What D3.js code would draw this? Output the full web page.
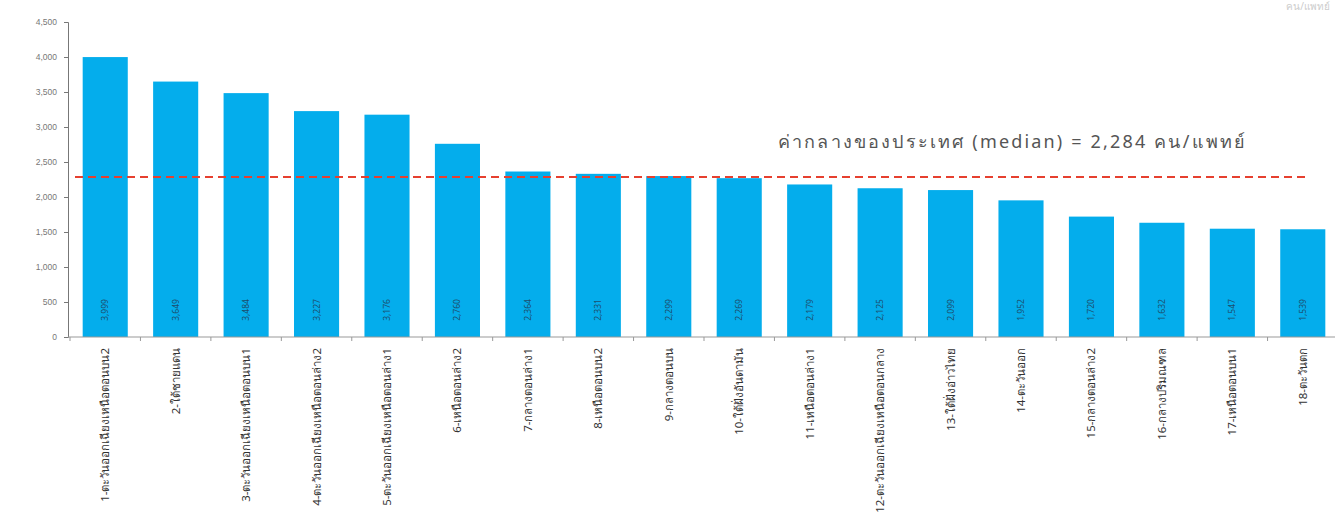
<!DOCTYPE html>
<html>
<head>
<meta charset="utf-8">
<script src="https://cdn.jsdelivr.net/npm/d3@7"></script>
<style>
  html, body { margin: 0; padding: 0; background: #fff; }
  svg { display: block; font-family: Tahoma, "Noto Sans", "DejaVu Sans", sans-serif; }
</style>
</head>
<body>
<svg id="chart" width="1335" height="522"></svg>
<script>
const categories = [
  "1-ตะวันออกเฉียงเหนือตอนบน2",
  "2-ใต้ชายแดน",
  "3-ตะวันออกเฉียงเหนือตอนบน1",
  "4-ตะวันออกเฉียงเหนือตอนล่าง2",
  "5-ตะวันออกเฉียงเหนือตอนล่าง1",
  "6-เหนือตอนล่าง2",
  "7-กลางตอนล่าง1",
  "8-เหนือตอนบน2",
  "9-กลางตอนบน",
  "10-ใต้ฝั่งอันดามัน",
  "11-เหนือตอนล่าง1",
  "12-ตะวันออกเฉียงเหนือตอนกลาง",
  "13-ใต้ฝั่งอ่าวไทย",
  "14-ตะวันออก",
  "15-กลางตอนล่าง2",
  "16-กลางปริมณฑล",
  "17-เหนือตอนบน1",
  "18-ตะวันตก"
];
const values = [3999, 3649, 3484, 3227, 3176, 2760, 2364, 2331, 2299, 2269, 2179, 2125, 2099, 1952, 1720, 1632, 1547, 1539];
const medianValue = 2284;
const medianLabel = "ค่ากลางของประเทศ (median) =  2,284 คน/แพทย์";
const yTicks = [0, 500, 1000, 1500, 2000, 2500, 3000, 3500, 4000, 4500];

const svg = d3.select("#chart");
const y = d3.scaleLinear().domain([0, 4500]).range([337, 22]);
const x = d3.scaleBand().domain(categories).range([70, 1338]).paddingInner(0.36).paddingOuter(0.18);
const fmt = d3.format(",");

// Y axis
const yAxis = svg.append("g").attr("transform", "translate(68,0)")
  .call(d3.axisLeft(y).tickValues(yTicks).tickFormat(fmt).tickSize(4).tickPadding(7));
yAxis.select(".domain").attr("stroke", "#777");
yAxis.selectAll(".tick line").attr("stroke", "#777");
yAxis.selectAll(".tick text").attr("fill", "#777").style("font-size", "8.5px");

// Bars
svg.append("g").selectAll("rect").data(values).join("rect")
  .attr("x", (d, i) => x(categories[i]))
  .attr("y", d => y(d))
  .attr("width", x.bandwidth())
  .attr("height", d => y(0) - y(d))
  .attr("fill", "#04adec");

// X axis line + boundary ticks
const step = x.step();
svg.append("line").attr("x1", 68).attr("x2", 1335).attr("y1", y(0)).attr("y2", y(0))
  .attr("stroke", "#999").attr("stroke-width", 1);
svg.append("g").selectAll("line").data(categories).join("line")
  .attr("x1", (d) => x(d) - (step - x.bandwidth()) / 2)
  .attr("x2", (d) => x(d) - (step - x.bandwidth()) / 2)
  .attr("y1", y(0)).attr("y2", y(0) + 4)
  .attr("stroke", "#999");

// Value labels inside bars
svg.append("g").selectAll("text").data(values).join("text")
  .attr("transform", (d, i) => `translate(${x(categories[i]) + x.bandwidth() / 2 + 3},${y(0) - 27}) rotate(-90)`)
  .attr("text-anchor", "middle")
  .attr("fill", "#1d4f6e")
  .style("font-size", "8.5px")
  .text(d => fmt(d));

// Category labels
svg.append("g").selectAll("text").data(categories).join("text")
  .attr("transform", d => `translate(${x(d) + x.bandwidth() / 2 + 4},${y(0) + 11}) rotate(-90)`)
  .attr("text-anchor", "end")
  .attr("fill", "#333")
  .style("font-size", "11.5px")
  .text(d => d);

// Median line
svg.append("line")
  .attr("x1", 75).attr("x2", 1306)
  .attr("y1", y(medianValue)).attr("y2", y(medianValue))
  .attr("stroke", "#e6402f").attr("stroke-width", 2)
  .attr("stroke-dasharray", "8,5");

svg.append("text")
  .attr("x", 778).attr("y", 148)
  .attr("fill", "#555")
  .attr("textLength", 467)
  .attr("lengthAdjust", "spacing")
  .style("font-size", "18px")
  .text(medianLabel);

// Top-right note (faint in reference)
svg.append("text")
  .attr("x", 1330).attr("y", 10)
  .attr("text-anchor", "end")
  .attr("fill", "#ccc")
  .style("font-size", "10px")
  .text("คน/แพทย์");
</script>
</body>
</html>
